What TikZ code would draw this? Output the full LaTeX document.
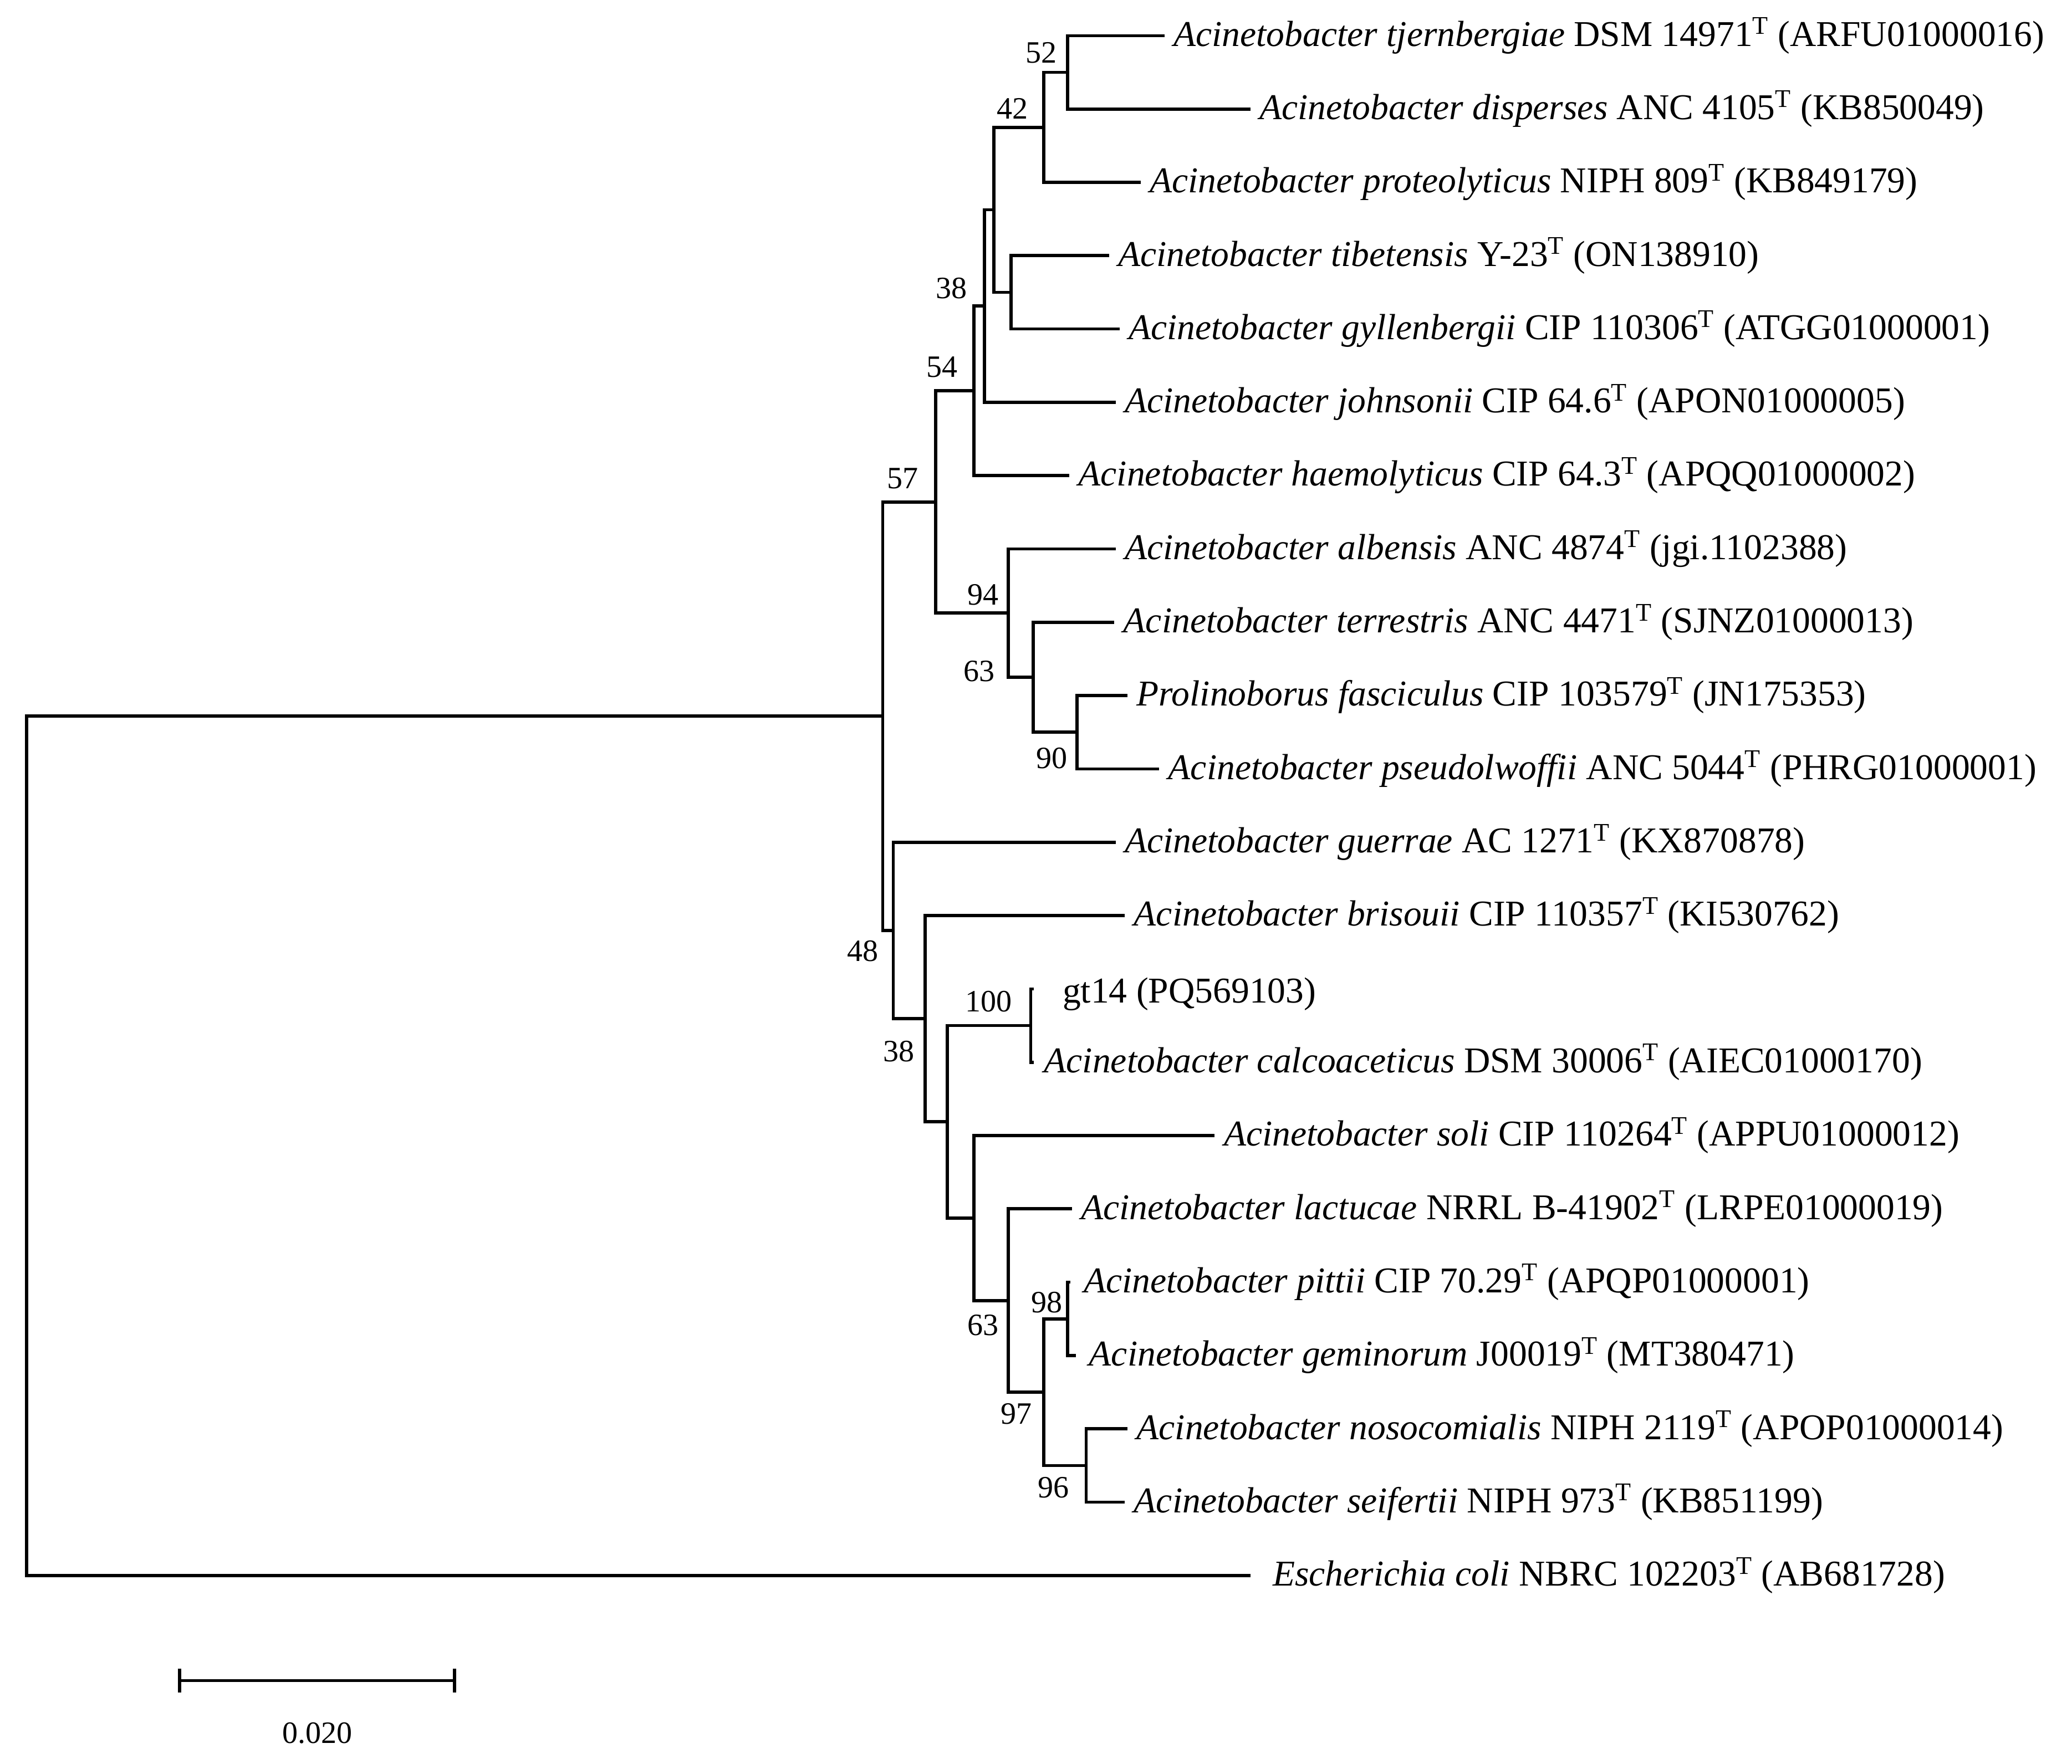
\documentclass[tikz,border=0pt]{standalone}
\usepackage{fontspec}
\setmainfont{Liberation Serif}
\begin{document}
\begin{tikzpicture}[x=1pt,y=-1pt,line width=2.4pt,
  br/.style={draw,black,line cap=rect},
  leaf/.style={anchor=west,inner sep=0pt,font=\fontsize{27.5}{29}\selectfont},
  bs/.style={inner sep=0pt,font=\fontsize{23.5}{25}\selectfont}]
\useasboundingbox (0,0) rectangle (1568,1335);
\newcommand{\T}{\textsuperscript{T}}
% internal nodes
\coordinate (root) at (20,867);
\coordinate (nA) at (668,542);
\coordinate (n57) at (708,379.9);
\coordinate (n54) at (737,295.8);
\coordinate (n38) at (745,231.7);
\coordinate (nu) at (752,158.8);
\coordinate (n42) at (790,96.4);
\coordinate (n52) at (808,54.75);
\coordinate (ntg) at (765,221.25);
\coordinate (n94) at (763,464);
\coordinate (n63) at (782,512.6);
\coordinate (n90) at (815,554.25);
\coordinate (n48) at (676,704.3);
\coordinate (n38b) at (700,771);
\coordinate (nX) at (717,849.1);
\coordinate (n100) at (780,776.25);
\coordinate (nY) at (737,922);
\coordinate (n63b) at (763,984.4);
\coordinate (n97) at (790,1053.75);
\coordinate (n98) at (808,998.25);
\coordinate (n96) at (822,1109.25);
% leaf ends
\coordinate (L0) at (880,27);
\coordinate (L1) at (945,82.5);
\coordinate (L2) at (862,138);
\coordinate (L3) at (838,193.5);
\coordinate (L4) at (846,249);
\coordinate (L5) at (843,304.5);
\coordinate (L6) at (808,360);
\coordinate (L7) at (843,415.5);
\coordinate (L8) at (842,471);
\coordinate (L9) at (852,526.5);
\coordinate (L10) at (876,582);
\coordinate (L11) at (843,637.5);
\coordinate (L12) at (850,693);
\coordinate (L13) at (781,748.5);
\coordinate (L14) at (781,804);
\coordinate (L15) at (918,859.5);
\coordinate (L16) at (810,915);
\coordinate (L17) at (809,970.5);
\coordinate (L18) at (813,1026);
\coordinate (L19) at (852,1081.5);
\coordinate (L20) at (850,1137);
\coordinate (L21) at (945,1192.5);
% branches
\draw[br] (root) |- (nA); \draw[br] (root) |- (L21);
\draw[br] (nA) |- (n57); \draw[br] (nA) |- (n48);
\draw[br] (n57) |- (n54); \draw[br] (n57) |- (n94);
\draw[br] (n54) |- (n38); \draw[br] (n54) |- (L6);
\draw[br] (n38) |- (nu); \draw[br] (n38) |- (L5);
\draw[br] (nu) |- (n42); \draw[br] (nu) |- (ntg);
\draw[br] (n42) |- (n52); \draw[br] (n42) |- (L2);
\draw[br] (n52) |- (L0); \draw[br] (n52) |- (L1);
\draw[br] (ntg) |- (L3); \draw[br] (ntg) |- (L4);
\draw[br] (n94) |- (L7); \draw[br] (n94) |- (n63);
\draw[br] (n63) |- (L8); \draw[br] (n63) |- (n90);
\draw[br] (n90) |- (L9); \draw[br] (n90) |- (L10);
\draw[br] (n48) |- (L11); \draw[br] (n48) |- (n38b);
\draw[br] (n38b) |- (L12); \draw[br] (n38b) |- (nX);
\draw[br] (nX) |- (n100); \draw[br] (nX) |- (nY);
\draw[br] (n100) |- (L13); \draw[br] (n100) |- (L14);
\draw[br] (nY) |- (L15); \draw[br] (nY) |- (n63b);
\draw[br] (n63b) |- (L16); \draw[br] (n63b) |- (n97);
\draw[br] (n97) |- (n98); \draw[br] (n97) |- (n96);
\draw[br] (n98) |- (L17); \draw[br] (n98) |- (L18);
\draw[br] (n96) |- (L19); \draw[br] (n96) |- (L20);
% leaf labels
\node[leaf] (t0) at ([xshift=7pt]L0) {\textit{Acinetobacter tjernbergiae} DSM 14971\T{} (ARFU01000016)};
\node[leaf] (t1) at ([xshift=7pt]L1) {\textit{Acinetobacter disperses} ANC 4105\T{} (KB850049)};
\node[leaf] (t2) at ([xshift=7pt]L2) {\textit{Acinetobacter proteolyticus} NIPH 809\T{} (KB849179)};
\node[leaf] (t3) at ([xshift=7pt]L3) {\textit{Acinetobacter tibetensis} Y-23\T{} (ON138910)};
\node[leaf] (t4) at ([xshift=7pt]L4) {\textit{Acinetobacter gyllenbergii} CIP 110306\T{} (ATGG01000001)};
\node[leaf] (t5) at ([xshift=7pt]L5) {\textit{Acinetobacter johnsonii} CIP 64.6\T{} (APON01000005)};
\node[leaf] (t6) at ([xshift=7pt]L6) {\textit{Acinetobacter haemolyticus} CIP 64.3\T{} (APQQ01000002)};
\node[leaf] (t7) at ([xshift=7pt]L7) {\textit{Acinetobacter albensis} ANC 4874\T{} (jgi.1102388)};
\node[leaf] (t8) at ([xshift=7pt]L8) {\textit{Acinetobacter terrestris} ANC 4471\T{} (SJNZ01000013)};
\node[leaf] (t9) at ([xshift=7pt]L9) {\textit{Prolinoborus fasciculus} CIP 103579\T{} (JN175353)};
\node[leaf] (t10) at ([xshift=7pt]L10) {\textit{Acinetobacter pseudolwoffii} ANC 5044\T{} (PHRG01000001)};
\node[leaf] (t11) at ([xshift=7pt]L11) {\textit{Acinetobacter guerrae} AC 1271\T{} (KX870878)};
\node[leaf] (t12) at ([xshift=7pt]L12) {\textit{Acinetobacter brisouii} CIP 110357\T{} (KI530762)};
\node[leaf] (t13) at ([xshift=22pt,yshift=-4pt]L13) {gt14 (PQ569103)};
\node[leaf] (t14) at ([xshift=8pt]L14) {\textit{Acinetobacter calcoaceticus} DSM 30006\T{} (AIEC01000170)};
\node[leaf] (t15) at ([xshift=7pt]L15) {\textit{Acinetobacter soli} CIP 110264\T{} (APPU01000012)};
\node[leaf] (t16) at ([xshift=7pt]L16) {\textit{Acinetobacter lactucae} NRRL B-41902\T{} (LRPE01000019)};
\node[leaf] (t17) at ([xshift=10pt]L17) {\textit{Acinetobacter pittii} CIP 70.29\T{} (APQP01000001)};
\node[leaf] (t18) at ([xshift=10pt]L18) {\textit{Acinetobacter geminorum} J00019\T{} (MT380471)};
\node[leaf] (t19) at ([xshift=7pt]L19) {\textit{Acinetobacter nosocomialis} NIPH 2119\T{} (APOP01000014)};
\node[leaf] (t20) at ([xshift=7pt]L20) {\textit{Acinetobacter seifertii} NIPH 973\T{} (KB851199)};
\node[leaf] (t21) at ([xshift=17pt]L21) {\textit{Escherichia coli} NBRC 102203\T{} (AB681728)};
% bootstrap values
\node[bs] (b52) at (788,40) {52};
\node[bs] (b42) at (766,82) {42};
\node[bs] (b38) at (720,218) {38};
\node[bs] (b54) at (713,278) {54};
\node[bs] (b57) at (683,362) {57};
\node[bs] (b94) at (744,450) {94};
\node[bs] (b63) at (741,508) {63};
\node[bs] (b90) at (796,574) {90};
\node[bs] (b48) at (653,720) {48};
\node[bs] (b38b) at (680,796) {38};
\node[bs] (b100) at (748,758) {100};
\node[bs] (b63b) at (744,1003) {63};
\node[bs] (b98) at (792,986) {98};
\node[bs] (b97) at (769,1070) {97};
\node[bs] (b96) at (797,1126) {96};
% scale bar
\coordinate (s1) at (136,1272);
\coordinate (s2) at (344,1272);
\draw[br,line cap=butt] (s1) -- (s2);
\draw[line cap=butt] ([yshift=-9pt]s1) -- ([yshift=9pt]s1);
\draw[line cap=butt] ([yshift=-9pt]s2) -- ([yshift=9pt]s2);
\node[bs] (sl) at (240,1312) {0.020};
\end{tikzpicture}
\end{document}
